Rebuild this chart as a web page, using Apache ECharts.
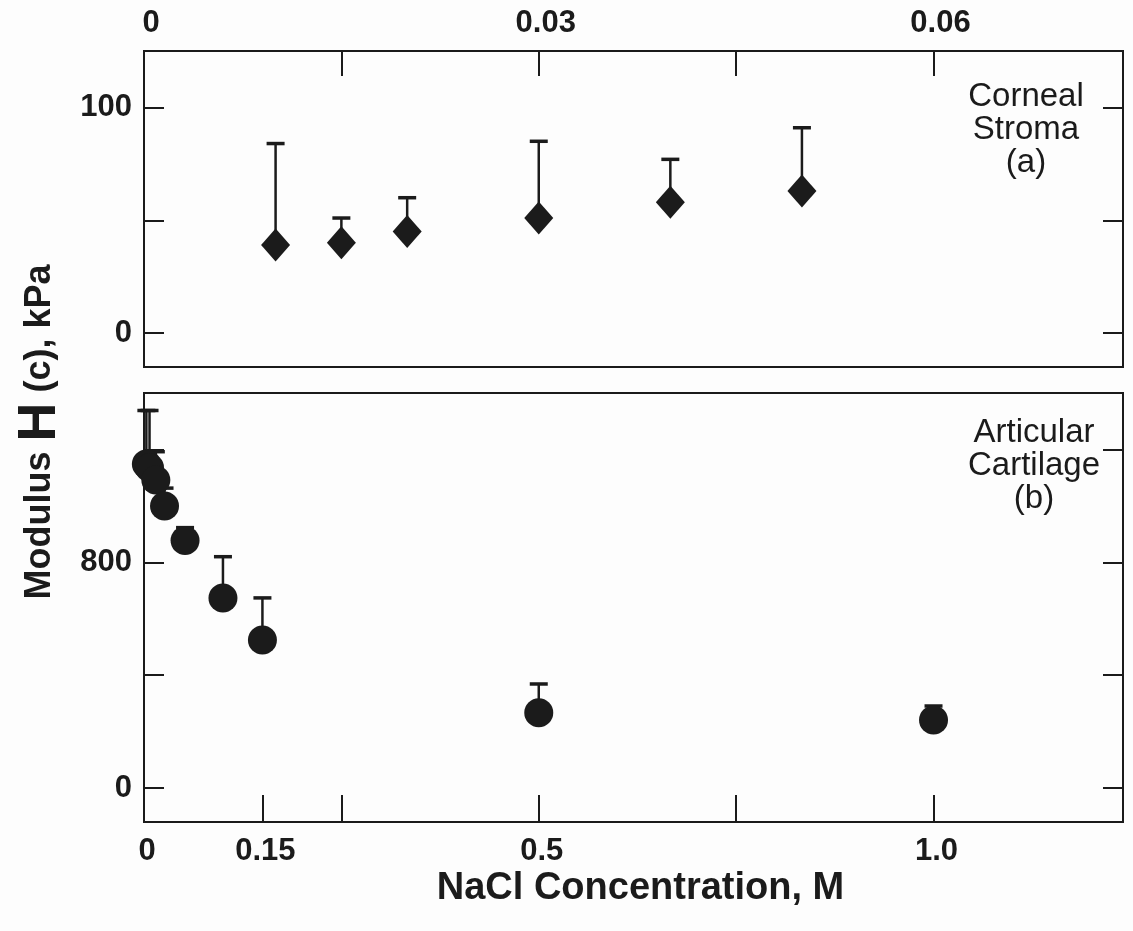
<!DOCTYPE html>
<html>
<head>
<meta charset="utf-8">
<script src="https://cdn.jsdelivr.net/npm/echarts@6.0.0/dist/echarts.min.js"></script>
<style>
  html, body { margin: 0; padding: 0; background: #fdfdfd; }
  #chart { width: 1133px; height: 931px; }
</style>
</head>
<body>
<div id="chart"></div>
<script>
// (a) corneal stroma, top axis in M
const corneaConc = [0.01, 0.015, 0.02, 0.03, 0.04, 0.05]
const corneaMod = [39, 40, 45, 51, 58, 63]
const corneaErrTop = [84, 51, 60, 85, 77, 91]

// (b) articular cartilage, bottom axis in M
const cartConc = [0.003, 0.007, 0.015, 0.026, 0.052, 0.1, 0.15, 0.5, 1.0]
const cartMod = [1148, 1135, 1092, 1000, 877, 674, 525, 267, 241]
const cartErrTop = [1338, 1338, 1192, 1063, 923, 820, 674, 369, 291]

const topTicks = [0.015, 0.03, 0.045, 0.06]
const topLabels = [0, 0.03, 0.06]
const bottomTicks = [0.15, 0.25, 0.5, 0.75, 1.0]
const bottomLabels = [0, 0.15, 0.5, 1.0]
const corneaYTicks = [0, 50, 100]
const corneaYLabels = [0, 100]
const cartYTicks = [0, 400, 800, 1200]
const cartYLabels = [0, 800]

const ink = '#1b1b1b'
const font = "'Liberation Sans', Arial, sans-serif"

const labelStyle = {
  color: ink,
  fontFamily: font,
  fontWeight: 'bold',
  fontSize: 31
}

function xFmt(v) {
  if (v === 0) return '0'
  if (v === 1) return '1.0'
  if (v < 0.1) return v.toFixed(2)
  return String(v)
}

function renderErr(params, api) {
  const x = api.value(0)
  const p0 = api.coord([x, api.value(1)])
  const p1 = api.coord([x, api.value(2)])
  return {
    type: 'group',
    children: [
      { type: 'line', shape: { x1: p0[0], y1: p0[1], x2: p1[0], y2: p1[1] }, style: { stroke: ink, lineWidth: 2.5 } },
      { type: 'line', shape: { x1: p1[0] - 9, y1: p1[1], x2: p1[0] + 9, y2: p1[1] }, style: { stroke: ink, lineWidth: 3.5 } }
    ]
  }
}

function yAxisPair(grid, min, max, ticks, labels) {
  const base = {
    type: 'value',
    gridIndex: grid,
    min: min,
    max: max,
    splitLine: { show: false },
    axisLine: { show: true, onZero: false, lineStyle: { color: ink, width: 2 } },
    axisTick: { show: true, inside: true, length: 20, customValues: ticks, lineStyle: { color: ink, width: 2 } }
  }
  return [
    Object.assign({}, base, {
      position: 'left',
      axisLabel: Object.assign({ customValues: labels, margin: 12 }, labelStyle)
    }),
    Object.assign({}, base, {
      position: 'right',
      axisLabel: { show: false }
    })
  ]
}

const chart = echarts.init(document.getElementById('chart'), null, { renderer: 'canvas' })

const option = {
  backgroundColor: '#fdfdfd',
  animation: false,
  grid: [
    { left: 144, right: 10, top: 51, height: 316, show: true, borderColor: ink, borderWidth: 2, backgroundColor: 'transparent' },
    { left: 144, right: 10, top: 393, height: 429, show: true, borderColor: ink, borderWidth: 2, backgroundColor: 'transparent' }
  ],
  xAxis: [
    {
      type: 'value',
      gridIndex: 0,
      position: 'top',
      min: 0,
      max: 0.0744,
      splitLine: { show: false },
      axisLine: { show: true, onZero: false, lineStyle: { color: ink, width: 2 } },
      axisTick: { show: true, inside: true, length: 25, customValues: topTicks, lineStyle: { color: ink, width: 2 } },
      axisLabel: Object.assign({ customValues: topLabels, margin: 12, formatter: xFmt, padding: [0, 0, 0, 14] }, labelStyle)
    },
    {
      type: 'value',
      gridIndex: 1,
      position: 'bottom',
      min: 0,
      max: 1.24,
      splitLine: { show: false },
      axisLine: { show: true, onZero: false, lineStyle: { color: ink, width: 2 } },
      axisTick: { show: true, inside: true, length: 27, customValues: bottomTicks, lineStyle: { color: ink, width: 2 } },
      axisLabel: Object.assign({ customValues: bottomLabels, margin: 14, formatter: xFmt, padding: [0, 0, 0, 6] }, labelStyle),
      name: 'NaCl Concentration, M',
      nameLocation: 'middle',
      nameGap: 48,
      nameTextStyle: { color: ink, fontFamily: font, fontWeight: 'bold', fontSize: 38, padding: [0, 0, 0, 14] }
    }
  ],
  yAxis: [].concat(
    yAxisPair(0, -15, 125, corneaYTicks, corneaYLabels),
    yAxisPair(1, -120, 1400, cartYTicks, cartYLabels)
  ),
  graphic: [
    {
      type: 'text',
      x: 40,
      y: 432,
      rotation: Math.PI / 2,
      style: {
        text: '{a|Modulus }{h|H}{a| (c), kPa}',
        align: 'center',
        verticalAlign: 'middle',
        fill: ink,
        rich: {
          a: { fontFamily: font, fontWeight: 'bold', fontSize: 36, fill: ink },
          h: { fontFamily: font, fontWeight: 'bold', fontSize: 54, fill: ink }
        }
      }
    },
    {
      type: 'text',
      x: 1026,
      y: 80,
      style: {
        text: 'Corneal\nStroma\n(a)',
        align: 'center',
        verticalAlign: 'top',
        fill: ink,
        fontFamily: font,
        fontSize: 33,
        lineHeight: 33
      }
    },
    {
      type: 'text',
      x: 1034,
      y: 416,
      style: {
        text: 'Articular\nCartilage\n(b)',
        align: 'center',
        verticalAlign: 'top',
        fill: ink,
        fontFamily: font,
        fontSize: 33,
        lineHeight: 33
      }
    }
  ],
  series: [
    {
      type: 'custom',
      xAxisIndex: 0,
      yAxisIndex: 0,
      renderItem: renderErr,
      encode: { x: 0, y: [1, 2] },
      data: corneaConc.map((c, i) => [c, corneaMod[i], corneaErrTop[i]]),
      z: 2
    },
    {
      type: 'scatter',
      xAxisIndex: 0,
      yAxisIndex: 0,
      symbol: 'diamond',
      symbolSize: [29, 33],
      itemStyle: { color: ink, opacity: 1 },
      data: corneaConc.map((c, i) => [c, corneaMod[i]]),
      z: 3
    },
    {
      type: 'custom',
      xAxisIndex: 1,
      yAxisIndex: 2,
      renderItem: renderErr,
      encode: { x: 0, y: [1, 2] },
      data: cartConc.map((c, i) => [c, cartMod[i], cartErrTop[i]]),
      z: 2
    },
    {
      type: 'scatter',
      xAxisIndex: 1,
      yAxisIndex: 2,
      symbol: 'circle',
      symbolSize: 29,
      itemStyle: { color: ink, opacity: 1 },
      data: cartConc.map((c, i) => [c, cartMod[i]]),
      z: 3
    }
  ]
}

chart.setOption(option)
window.addEventListener('resize', () => chart.resize())
</script>
</body>
</html>
